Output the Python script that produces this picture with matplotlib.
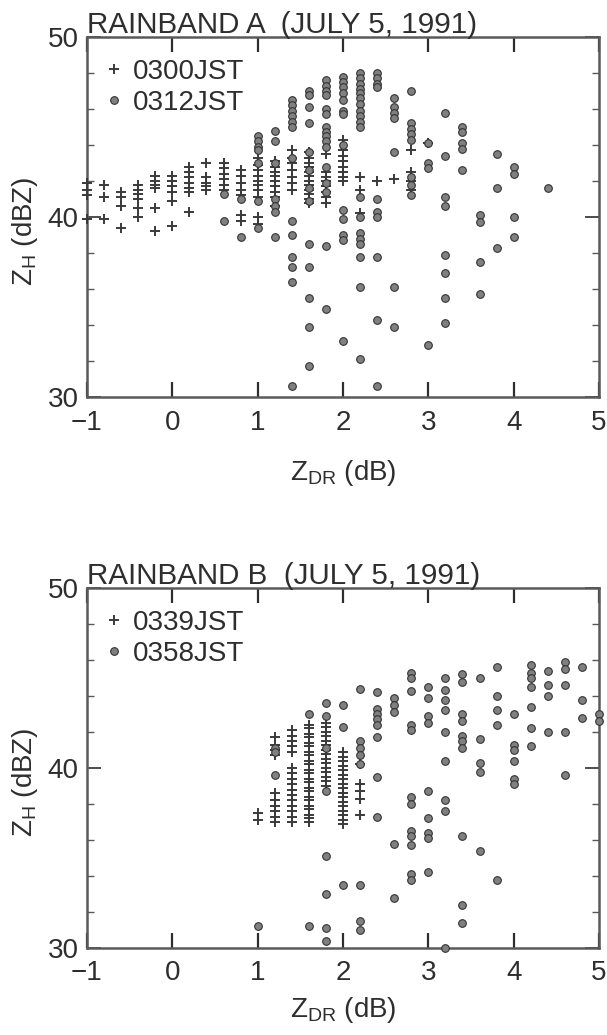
import numpy as np
import matplotlib
matplotlib.use('Agg')
import matplotlib.pyplot as plt
from matplotlib.ticker import MultipleLocator

plt.rcParams['font.family'] = ['Liberation Sans', 'DejaVu Sans']
plt.rcParams['mathtext.fontset'] = 'custom'
plt.rcParams['mathtext.rm'] = 'Liberation Sans'

# ---- Rainband A, 0300JST (+) : ZDR column -> ZH values
a_plus_zdr = [-1.0, -0.8, -0.6, -0.4, -0.2, 0.0, 0.2, 0.4, 0.6, 0.8, 1.0,
              1.2, 1.4, 1.6, 1.8, 2.0, 2.2, 2.4, 2.6, 2.8, 3.0]
a_plus_zh = [
    [41.9, 41.5, 41.2, 39.9],
    [41.8, 41.1, 39.9],
    [41.4, 41.1, 40.6, 39.4],
    [41.8, 41.5, 41.3, 41.0, 40.5, 40.0],
    [42.3, 42.0, 41.8, 41.6, 40.5, 39.2],
    [42.3, 42.0, 41.7, 41.4, 40.9, 39.5],
    [42.8, 42.5, 42.2, 41.9, 41.6, 41.4, 40.3],
    [43.0, 42.2, 41.9, 41.7, 41.5],
    [43.0, 42.7, 42.4, 42.1, 41.8, 41.5],
    [42.6, 42.3, 41.9, 41.5, 41.2, 40.1, 39.8],
    [43.3, 42.9, 42.6, 42.3, 42.0, 41.8, 41.5, 41.1, 40.0, 39.6],
    [43.1, 42.8, 42.5, 42.3, 42.0, 41.7, 41.4, 41.1, 40.6],
    [43.7, 43.3, 43.0, 42.6, 42.2, 41.9, 41.5],
    [43.6, 43.3, 43.0, 42.8, 42.5, 42.3, 42.0, 41.8, 41.5, 41.3, 41.0, 40.8],
    [43.5, 42.5, 42.2, 42.0, 41.7, 41.4, 41.1, 40.8],
    [44.3, 43.7, 43.4, 43.1, 42.8, 42.5, 42.2, 42.0],
    [42.2, 41.5, 40.2],
    [42.0],
    [42.1],
    [43.7, 42.5, 42.0, 41.5],
    [44.1],
]

# ---- Rainband A, 0312JST (dots)
a_dot_zdr = [0.6, 0.8, 1.0, 1.2, 1.4, 1.6, 1.8, 2.0, 2.2, 2.4, 2.6, 2.8,
             3.0, 3.2, 3.4, 3.6, 3.8, 4.0, 4.4]
a_dot_zh = [
    [41.3, 39.8],
    [41.0, 38.9],
    [44.5, 44.2, 43.9, 43.7, 43.0, 40.9, 39.4],
    [44.8, 44.2, 43.0, 41.0, 40.6, 40.3, 38.9],
    [46.5, 46.2, 45.9, 45.6, 45.3, 45.0, 43.3, 39.8, 39.0, 37.8, 37.2, 36.4, 30.6],
    [47.0, 46.8, 46.1, 45.2, 43.6, 42.6, 41.6, 40.9, 38.5, 37.2, 35.5, 33.9, 31.7],
    [47.6, 47.3, 47.0, 46.8, 46.0, 45.7, 45.0, 44.7, 44.5, 44.2, 43.9, 42.8,
     41.9, 41.4, 38.4, 34.9],
    [47.8, 47.5, 47.2, 46.9, 46.5, 45.9, 45.7, 44.0, 40.4, 39.9, 39.0, 38.7, 33.1],
    [48.0, 47.7, 47.4, 47.1, 46.9, 46.6, 46.3, 45.9, 45.6, 45.3, 45.0, 41.1,
     40.0, 39.1, 38.8, 38.5, 37.8, 36.1, 32.1],
    [48.0, 47.7, 47.4, 47.2, 41.0, 40.3, 40.0, 37.8, 34.3, 30.6],
    [46.6, 46.1, 45.8, 45.5, 43.6, 36.1, 33.9],
    [47.0, 45.2, 44.9, 44.6, 44.3, 42.2, 41.8, 41.2],
    [44.1, 43.0, 42.7, 32.9],
    [45.8, 43.4, 41.1, 40.6, 37.9, 36.9, 35.5, 34.1],
    [45.0, 44.7, 44.1, 43.8, 42.6],
    [40.1, 39.7, 37.5, 35.7],
    [43.5, 41.6, 38.3],
    [42.8, 42.4, 40.0, 38.9],
    [41.6],
]

# ---- Rainband B, 0339JST (+)
b_plus_zdr = [1.0, 1.2, 1.4, 1.6, 1.8, 2.0, 2.2]
b_plus_zh = [
    [37.5, 37.1],
    [41.7, 41.3, 41.0, 40.7, 38.6, 38.2, 37.9, 37.6, 37.3, 37.0],
    [42.1, 41.8, 41.5, 41.2, 40.9, 40.0, 39.7, 39.4, 39.1, 38.8, 38.5, 38.2,
     37.9, 37.6, 37.3, 37.0],
    [42.4, 42.2, 41.9, 41.7, 41.4, 41.2, 40.9, 40.7, 40.4, 40.2, 39.9, 39.7,
     39.4, 39.2, 38.9, 38.7, 38.4, 38.2, 37.9, 37.7, 37.4, 37.2, 37.0],
    [42.5, 42.3, 42.0, 41.8, 41.5, 41.3, 41.0, 40.8, 40.5, 40.3, 40.0, 39.8,
     39.5, 39.3, 39.0],
    [40.9, 40.6, 40.4, 40.1, 39.9, 39.6, 39.4, 39.1, 38.9, 38.6, 38.4, 38.1,
     37.9, 37.6, 37.4, 37.1, 36.9],
    [40.2, 39.1, 38.7, 38.3, 37.4],
]

# ---- Rainband B, 0358JST (dots)
b_dot_zdr = [1.0, 1.2, 1.6, 1.8, 2.0, 2.2, 2.4, 2.6, 2.8, 3.0, 3.2, 3.4,
             3.6, 3.8, 4.0, 4.2, 4.4, 4.6, 4.8, 5.0]
b_dot_zh = [
    [31.2],
    [41.1, 40.9, 39.6],
    [43.0, 31.2],
    [43.6, 42.9, 41.1, 38.7, 35.1, 33.0, 31.1, 30.4],
    [43.5, 42.3, 33.5],
    [44.4, 41.5, 41.1, 40.7, 40.2, 33.5, 31.5, 31.0],
    [44.2, 43.3, 43.0, 42.7, 42.4, 41.7, 39.5, 37.3],
    [43.9, 43.5, 43.1, 35.8, 32.8],
    [45.3, 45.0, 44.3, 42.4, 42.1, 38.4, 38.0, 36.5, 36.2, 35.7, 34.1, 33.8],
    [44.5, 43.9, 42.9, 42.5, 38.7, 37.2, 36.4, 36.1, 34.2],
    [45.0, 44.35, 43.8, 43.2, 42.0, 40.4, 38.2, 37.6, 30.0],
    [45.2, 44.8, 43.0, 42.6, 41.8, 41.5, 41.1, 36.2, 32.4, 31.4],
    [45.0, 41.6, 40.3, 39.8, 35.4],
    [45.6, 44.0, 43.2, 42.4, 33.8],
    [43.0, 41.3, 41.0, 40.4, 39.4, 39.1],
    [45.7, 45.3, 45.0, 44.5, 43.4, 42.2, 41.2],
    [45.4, 44.6, 44.0, 42.0],
    [45.9, 45.5, 44.6, 42.0, 39.6],
    [45.6, 43.8, 42.8],
    [43.0, 42.6],
]

panels = [
    ('RAINBAND A  (JULY 5, 1991)', a_plus_zdr, a_plus_zh, a_dot_zdr, a_dot_zh,
     '0300JST', '0312JST'),
    ('RAINBAND B  (JULY 5, 1991)', b_plus_zdr, b_plus_zh, b_dot_zdr, b_dot_zh,
     '0339JST', '0358JST'),
]

ink = '#2e2e2e'
frame = '#5a5a5a'


def flat(cols, vals):
    x = np.repeat(cols, [len(v) for v in vals])
    y = np.concatenate([np.asarray(v, dtype=float) for v in vals])
    return x, y


fig = plt.figure(figsize=(6.07, 10.35), dpi=100)
rects = [[0.1433, 0.6164, 0.8435, 0.3478],
         [0.1433, 0.0841, 0.8435, 0.3478]]
xlab_y = [-0.168, -0.13]

for k, (title, pzdr, pzh, dzdr, dzh, plab, dlab) in enumerate(panels):
    ax = fig.add_axes(rects[k])
    px, py = flat(pzdr, pzh)
    dx, dy = flat(dzdr, dzh)
    ax.plot(px, py, linestyle='none', marker='+', ms=7.5, mew=1.4,
            color='#3a3a3a', clip_on=False, label=plab, zorder=3)
    ax.plot(dx, dy, linestyle='none', marker='o', ms=5.5, mfc='#808080',
            mec='#333333', mew=0.8, clip_on=False, label=dlab, zorder=4)

    ax.set_xlim(-1, 5)
    ax.set_ylim(30, 50)
    ax.set_xticks(range(-1, 6))
    ax.set_yticks([30, 40, 50])
    ax.yaxis.set_minor_locator(MultipleLocator(2))
    ax.tick_params(axis='x', which='major', direction='in', top=True,
                   bottom=True, length=11, width=1.6, pad=9, labelsize=20,
                   color=ink, labelcolor=ink)
    ax.tick_params(axis='y', which='major', direction='in', left=True,
                   right=True, length=10, width=1.2, pad=6, labelsize=20,
                   color=ink, labelcolor=ink)
    ax.tick_params(axis='y', which='minor', direction='in', left=True,
                   right=True, length=5, width=1.0, color=frame)
    for s in ax.spines.values():
        s.set_color(frame)
        s.set_linewidth(1.8)

    ax.set_title(title, loc='left', fontsize=21.3, pad=3, color=ink)
    ax.set_xlabel(r'Z$_\mathregular{DR}$ (dB)', fontsize=20, color=ink)
    ax.set_ylabel(r'Z$_\mathregular{H}$ (dBZ)', fontsize=20, color=ink)
    ax.xaxis.set_label_coords(0.5, xlab_y[k])
    ax.yaxis.set_label_coords(-0.092, 0.46)

    ax.legend(loc='upper left', bbox_to_anchor=(0.0365, 0.94), frameon=False,
              fontsize=20, handlelength=0.6, handletextpad=0.38,
              labelspacing=0.18, borderpad=0, borderaxespad=0,
              labelcolor=ink)

fig.savefig('out.png', dpi=100)
